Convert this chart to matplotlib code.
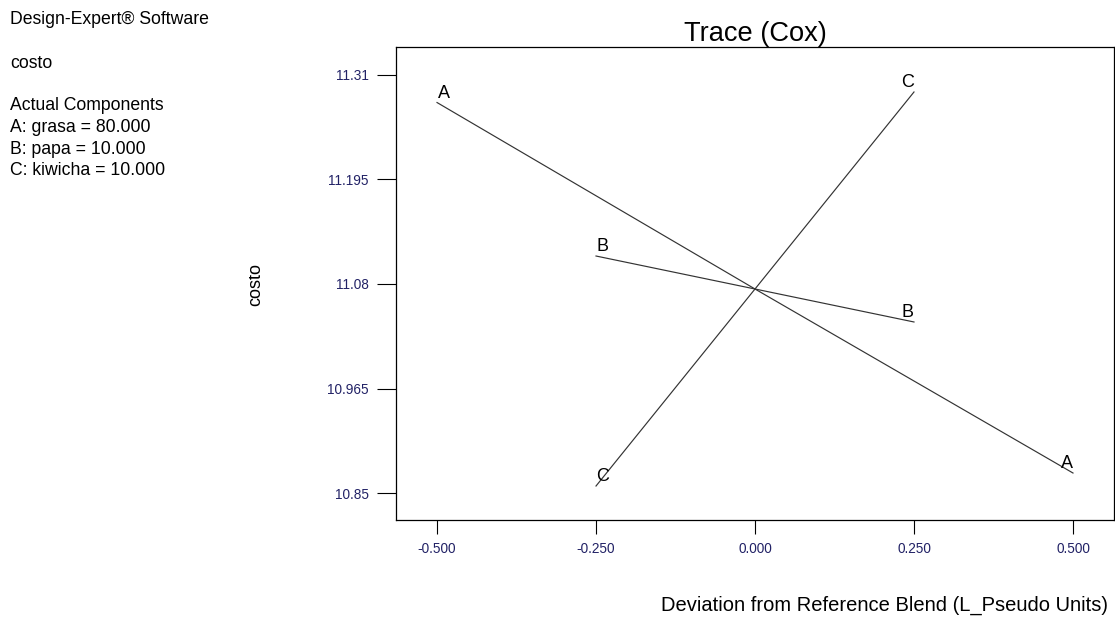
import matplotlib
matplotlib.use("Agg")
import matplotlib.pyplot as plt
from matplotlib.patches import Rectangle

plt.rcParams['font.family'] = ['Liberation Sans', 'DejaVu Sans']

# Trace plot data: deviation from reference blend vs predicted costo
dev_A = [-0.5, 0.0, 0.5]
costo_A = [11.2797, 11.0745, 10.872]
dev_B = [-0.25, 0.0, 0.25]
costo_B = [11.1108, 11.0745, 11.0382]
dev_C = [-0.25, 0.0, 0.25]
costo_C = [10.8577, 11.0745, 11.2913]

x_ticks = [-0.5, -0.25, 0.0, 0.25, 0.5]
x_tick_labels = ["-0.500", "-0.250", "0.000", "0.250", "0.500"]
y_ticks = [10.85, 10.965, 11.08, 11.195, 11.31]
y_tick_labels = ["10.85", "10.965", "11.08", "11.195", "11.31"]

info_lines = ["Design-Expert® Software", "", "costo", "", "Actual Components",
              "A: grasa = 80.000", "B: papa = 10.000", "C: kiwicha = 10.000"]

W, H = 1115, 617
fig = plt.figure(figsize=(W / 100, H / 100), dpi=100)
ax = fig.add_axes([396 / W, (H - 520) / H, (1114 - 396) / W, (520 - 47) / H])

line_color = "#333333"
series = [("A", dev_A, costo_A), ("B", dev_B, costo_B), ("C", dev_C, costo_C)]
for name, xs, ys in series:
    ax.plot(xs, ys, color=line_color, lw=0.85)
    # component labels just above each end of the trace
    ax.annotate(name, (xs[0], ys[0]), xytext=(6.5, 5), textcoords="offset pixels",
                ha="center", va="baseline", fontsize=13, color="black")
    ax.annotate(name, (xs[-1], ys[-1]), xytext=(-6.5, 5), textcoords="offset pixels",
                ha="center", va="baseline", fontsize=13, color="black")

ax.set_xlim(-0.5645, 0.5645)
ax.set_ylim(10.8203, 11.3408)
ax.set_xticks(x_ticks)
ax.set_xticklabels(x_tick_labels)
ax.set_yticks(y_ticks)
ax.set_yticklabels(y_tick_labels)

tick_color = "#222266"
ax.tick_params(axis="y", direction="out", length=13.7, width=0.8, pad=6,
               labelsize=9.8, labelcolor=tick_color)
ax.tick_params(axis="x", direction="out", length=10, width=0.8, pad=5.5,
               labelsize=9.8, labelcolor=tick_color)
for sp in ax.spines.values():
    sp.set_linewidth(0.9)
    sp.set_color("black")

ax.set_title("Trace (Cox)", fontsize=19.6, pad=3)

fig.text(1108 / W, 1 - 605 / H, "Deviation from Reference Blend (L_Pseudo Units)",
         ha="right", va="center", fontsize=14.5)

# vertical response label, partly hidden behind the left margin
ylab = fig.text(256 / W, 1 - 285 / H, "costo", rotation=90, ha="center",
                va="center", fontsize=13)
clip = Rectangle((249 / W, 0), 0.2, 1, transform=fig.transFigure)
ylab.set_clip_on(True)
ylab.set_clip_path(clip)

y0 = 20
for i, line in enumerate(info_lines):
    if line:
        fig.text(10 / W, 1 - (y0 + i * 21.5) / H, line, ha="left", va="center",
                 fontsize=12.7)

fig.savefig("out.png", dpi=100)
